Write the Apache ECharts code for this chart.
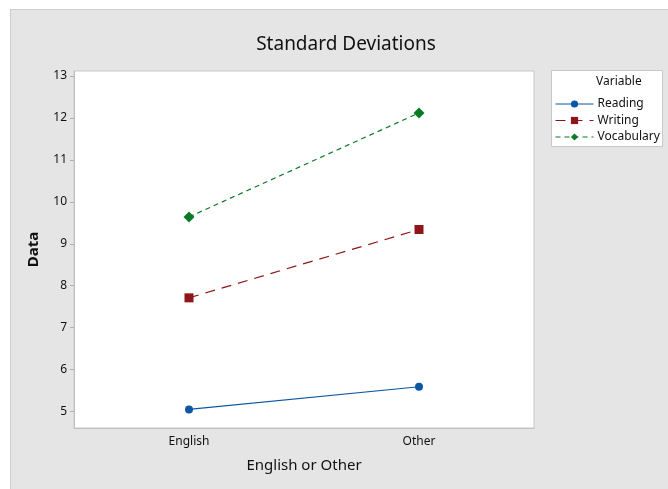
<!DOCTYPE html>
<html>
<head>
<meta charset="utf-8">
<script src="https://cdn.jsdelivr.net/npm/echarts@6/dist/echarts.min.js"></script>
<style>
html,body{margin:0;padding:0;background:#fff;}
#bg{position:absolute;left:10px;top:9px;width:658px;height:480px;background:#e5e5e5;border-left:1px solid #cdcdcd;border-top:1px solid #cdcdcd;box-sizing:border-box;}
#chart{position:absolute;left:0;top:0;width:668px;height:489px;}
</style>
</head>
<body>
<div id="bg"></div>
<div id="chart"></div>
<script>
const categories = ['English', 'Other'];
const reading = [5.05, 5.59];
const writing = [7.71, 9.34];
const vocabulary = [9.64, 12.12];
const yTicks = [5, 6, 7, 8, 9, 10, 11, 12, 13];

const FONT = 'Noto Sans';
const chart = echarts.init(document.getElementById('chart'), null, {renderer: 'canvas'});
const option = {
  backgroundColor: 'transparent',
  animation: false,
  textStyle: {fontFamily: FONT},
  title: {
    text: 'Standard Deviations',
    left: 341, top: 30, textAlign: 'center',
    textStyle: {fontFamily: FONT, fontSize: 19, fontWeight: 'normal', color: '#111111'}
  },
  grid: {
    left: 74, top: 71, right: 134, bottom: 61,
    show: true, backgroundColor: '#ffffff', borderColor: '#c8c8c8', borderWidth: 1
  },
  xAxis: {
    type: 'category',
    data: categories,
    boundaryGap: true,
    name: 'English or Other',
    nameLocation: 'middle',
    nameGap: 30,
    nameTextStyle: {fontFamily: FONT, fontSize: 15, color: '#111111'},
    axisLine: {lineStyle: {color: '#c0c0c0'}},
    axisTick: {alignWithLabel: true, length: 4, lineStyle: {color: '#b0b0b0'}},
    axisLabel: {fontFamily: FONT, fontSize: 12, color: '#111111', margin: 8},
    splitLine: {show: false}
  },
  yAxis: {
    type: 'value',
    min: 4.606, max: 13.12,
    name: 'Data',
    nameLocation: 'middle',
    nameGap: 33,
    nameTextStyle: {fontFamily: FONT, fontSize: 15, color: '#111111', fontWeight: 'bold'},
    axisLine: {show: true, lineStyle: {color: '#c0c0c0'}},
    axisTick: {show: true, length: 4, customValues: yTicks, lineStyle: {color: '#b0b0b0'}},
    axisLabel: {fontFamily: FONT, fontSize: 12, color: '#111111', margin: 7, customValues: yTicks},
    splitLine: {show: false}
  },
  legend: {
    orient: 'vertical',
    left: 550, top: 92,
    itemWidth: 38, itemHeight: 9, itemGap: 2.5,
    textStyle: {fontFamily: FONT, fontSize: 12, lineHeight: 14, color: '#111111', padding: [0, 0, 0, -1]},
    lineStyle: {width: 1},
    data: ['Reading', 'Writing', 'Vocabulary']
  },
  graphic: [
    {type: 'rect', z: -1, shape: {x: 551.5, y: 70.5, width: 111, height: 76},
     style: {fill: '#ffffff', stroke: '#c8c8c8', lineWidth: 1}},
    {type: 'text', z: 10, left: 596, top: 76,
     style: {text: 'Variable', fontFamily: FONT, fontSize: 12, fill: '#111111'}}
  ],
  series: [
    {name: 'Reading', type: 'line', data: reading, symbol: 'circle', symbolSize: 8,
     itemStyle: {color: '#0b57a4'}, lineStyle: {color: '#0b57a4', width: 1.2}},
    {name: 'Writing', type: 'line', data: writing, symbol: 'rect', symbolSize: 9,
     itemStyle: {color: '#8e1518'}, lineStyle: {color: '#8e1518', width: 1.2, type: [10, 7]}},
    {name: 'Vocabulary', type: 'line', data: vocabulary, symbol: 'diamond', symbolSize: 11,
     itemStyle: {color: '#0b7a26'}, lineStyle: {color: '#0b7a26', width: 1.2, type: [5, 4]}}
  ]
};
chart.setOption(option);
</script>
</body>
</html>
